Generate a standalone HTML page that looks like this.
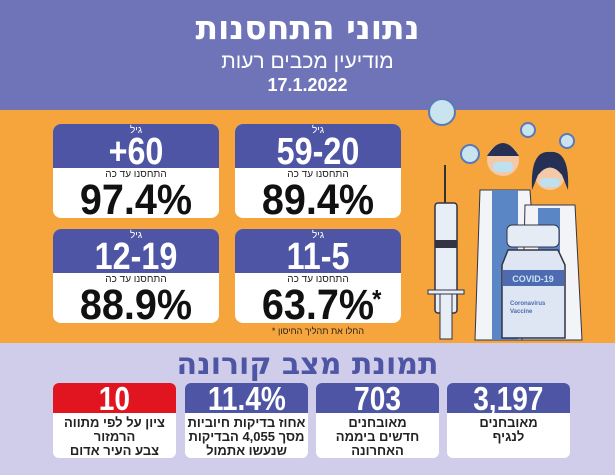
<!DOCTYPE html>
<html><head><meta charset="utf-8"><style>
*{margin:0;padding:0;box-sizing:border-box}
body{width:615px;height:475px;position:relative;overflow:hidden;font-family:"Liberation Sans","DejaVu Sans",sans-serif;background:#cfcde9}
.a{position:absolute}
.top{left:0;top:0;width:615px;height:110px;background:#6e74b7;color:#fff;text-align:center}
.org{left:0;top:110px;width:615px;height:233px;background:#f5a53b}
.card{position:absolute;width:166px;height:94px;border-radius:8px;overflow:hidden;background:#fff;text-align:center}
.card .h{height:44px;background:#4e55a4;color:#fff}
.card .n1{font-size:10px;line-height:11px;padding-top:1px}
.card .n2{font-size:38px;font-weight:bold;line-height:32px;transform:scaleX(.85)}
.card .s{font-size:10px;line-height:11px;color:#222;margin-top:1px}
.card .p{font-size:43px;font-weight:bold;line-height:40px;color:#111;transform:scaleX(.92);position:relative}
.box{position:absolute;top:383px;width:123px;height:75px;border-radius:6px;overflow:hidden;background:#fff;text-align:center}
.box .h{height:30px;background:#4e55a4;color:#fff;font-size:33px;font-weight:bold;line-height:31px}
.box .h span{display:inline-block;transform:scaleX(.85)}
.box .t{font-size:13px;font-weight:bold;line-height:14px;color:#222;padding-top:3px}
</style></head><body>
<div class="a top">
<div style="font-size:33px;font-weight:bold;line-height:36px;padding-top:10px;font-family:'DejaVu Sans',sans-serif">נתוני התחסנות</div>
<div style="font-size:21px;line-height:24px;margin-top:4px">מודיעין מכבים רעות</div>
<div style="font-size:18px;font-weight:bold;line-height:22px">17.1.2022</div>
</div>
<div class="a org"></div>

<div class="card" style="left:53px;top:124px"><div class="h"><div class="n1">גיל</div><div class="n2">+60</div></div><div class="s">התחסנו עד כה</div><div class="p">97.4%</div></div>
<div class="card" style="left:235px;top:124px"><div class="h"><div class="n1">גיל</div><div class="n2">59-20</div></div><div class="s">התחסנו עד כה</div><div class="p">89.4%</div></div>
<div class="card" style="left:53px;top:229px"><div class="h"><div class="n1">גיל</div><div class="n2">12-19</div></div><div class="s">התחסנו עד כה</div><div class="p">88.9%</div></div>
<div class="card" style="left:235px;top:229px"><div class="h"><div class="n1">גיל</div><div class="n2">11-5</div></div><div class="s">התחסנו עד כה</div><div class="p">63.7%<span style="position:absolute;right:14px;top:-6px;font-size:26px">*</span></div></div>
<div class="a" style="left:235px;top:326px;width:166px;text-align:center;font-size:9px;color:#222">* החלו את תהליך החיסון</div>

<svg class="a" style="left:410px;top:90px" width="205" height="253" viewBox="0 0 205 253">
<g fill="#c9e3ef" stroke="#5a79b8" stroke-width="2">
<circle cx="32" cy="22" r="13"/><circle cx="60" cy="64" r="9"/><circle cx="118" cy="40" r="7"/><circle cx="157" cy="51" r="7"/>
</g>
<line x1="35" y1="75" x2="35" y2="115" stroke="#333" stroke-width="2"/>
<rect x="25" y="113" width="22" height="110" rx="3" fill="#e8eef6" stroke="#334" stroke-width="1.5"/>
<rect x="25" y="150" width="22" height="8" fill="#334"/>
<rect x="18" y="200" width="36" height="4" fill="#e8eef6" stroke="#334"/>
<rect x="30" y="204" width="12" height="45" fill="#e8eef6" stroke="#334"/>
<path d="M70 100 L120 100 L130 250 L65 250 Z" fill="#f2f4f8" stroke="#334"/>
<rect x="82" y="100" width="26" height="150" fill="#5b86c5"/>
<circle cx="93" cy="70" r="16" fill="#f3c9a8"/><path d="M77 66 Q93 40 109 66" fill="#263055"/>
<rect x="83" y="72" width="20" height="10" rx="4" fill="#bfe0ee"/>
<path d="M115 115 L165 115 L172 250 L112 250 Z" fill="#f2f4f8" stroke="#334"/>
<rect x="128" y="118" width="22" height="60" fill="#5b86c5"/>
<circle cx="140" cy="85" r="15" fill="#f3c9a8"/><path d="M122 100 Q120 60 140 62 Q160 60 158 100 L152 85 Q140 70 128 85 Z" fill="#263055"/>
<rect x="130" y="88" width="20" height="9" rx="4" fill="#bfe0ee"/>
<rect x="97" y="135" width="52" height="22" rx="5" fill="#e6ecf5" stroke="#334"/>
<path d="M98 160 L148 160 L155 175 L155 248 L92 248 L92 175 Z" fill="#dde6f2" stroke="#334" stroke-width="1.5"/>
<rect x="93" y="180" width="61" height="16" fill="#4e6bb2"/>
<text x="123" y="192" font-family="Liberation Sans" font-size="9" font-weight="bold" fill="#c9e3ef" text-anchor="middle">COVID-19</text>
<text x="100" y="215" font-family="Liberation Sans" font-size="6" font-weight="bold" fill="#4e6bb2">Coronavirus</text>
<text x="100" y="223" font-family="Liberation Sans" font-size="6" font-weight="bold" fill="#4e6bb2">Vaccine</text>
</svg>

<div class="a" style="left:0;top:350px;width:615px;text-align:center;font-size:30px;font-weight:bold;line-height:30px;color:#4e55a4;font-family:'DejaVu Sans',sans-serif">תמונת מצב קורונה</div>

<div class="box" style="left:53px"><div class="h" style="background:#e0151f"><span>10</span></div><div class="t">ציון על לפי מתווה<br>הרמזור<br>צבע העיר אדום</div></div>
<div class="box" style="left:185px"><div class="h"><span>11.4%</span></div><div class="t">אחוז בדיקות חיוביות<br>מסך 4,055 הבדיקות<br>שנעשו אתמול</div></div>
<div class="box" style="left:316px"><div class="h"><span>703</span></div><div class="t">מאובחנים<br>חדשים ביממה<br>האחרונה</div></div>
<div class="box" style="left:447px"><div class="h"><span>3,197</span></div><div class="t">מאובחנים<br>לנגיף</div></div>
</body></html>
